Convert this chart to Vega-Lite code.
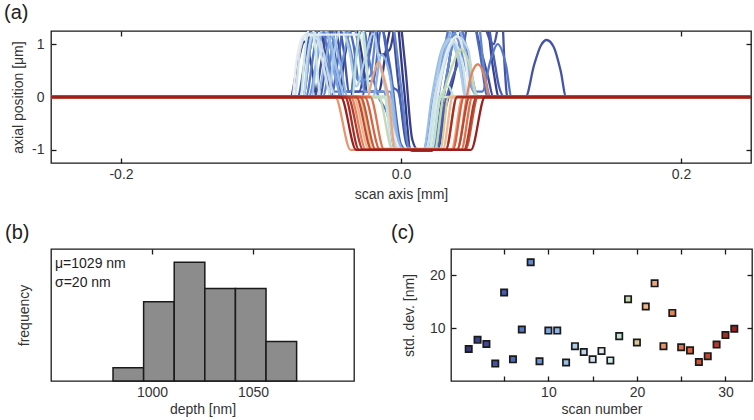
{
  "$schema": "https://vega.github.io/schema/vega-lite/v6.json",
  "padding": {"left": 3, "top": 2, "right": 2, "bottom": 0},
  "config": {
    "font": "Liberation Sans",
    "view": {"stroke": "#1a1a1a", "strokeWidth": 1.3},
    "axis": {"domain": false, "grid": false, "tickSize": -5, "tickColor": "#1a1a1a", "tickWidth": 1.3,
             "labelFont": "Liberation Sans", "labelFontSize": 14, "labelColor": "#333333",
             "titleFont": "Liberation Sans", "titleFontSize": 14, "titleFontWeight": "normal", "titleColor": "#333333",
             "labelPadding": 9},
    "title": {"fontSize": 20, "fontWeight": "normal", "anchor": "start", "frame": "group", "color": "#222222", "font": "Liberation Sans", "baseline": "alphabetic"}
  },
  "datasets": {
    "prof": [
      {"s":1,"x":-0.25,"y":0},{"s":1,"x":-0.079,"y":0},{"s":1,"x":-0.074,"y":0.6},{"s":1,"x":-0.069,"y":1.05},{"s":1,"x":-0.064,"y":0.6},{"s":1,"x":-0.06,"y":0},{"s":1,"x":-0.045,"y":0},{"s":1,"x":-0.04,"y":0.8},{"s":1,"x":-0.034,"y":1.5},{"s":1,"x":-0.028,"y":0.8},{"s":1,"x":-0.024,"y":0.1},{"s":1,"x":-0.016,"y":0.1},{"s":1,"x":-0.01,"y":1.0},{"s":1,"x":-0.004,"y":1.6},{"s":1,"x":0.002,"y":0.2},{"s":1,"x":0.007,"y":-1.0},{"s":1,"x":0.024,"y":-1.0},{"s":1,"x":0.03,"y":0},{"s":1,"x":0.25,"y":0},
      {"s":2,"x":-0.25,"y":0},{"s":2,"x":-0.07,"y":0},{"s":2,"x":-0.065,"y":0.9},{"s":2,"x":-0.06,"y":1.5},{"s":2,"x":-0.054,"y":0.8},{"s":2,"x":-0.05,"y":0},{"s":2,"x":-0.036,"y":0},{"s":2,"x":-0.032,"y":0.8},{"s":2,"x":-0.026,"y":1.6},{"s":2,"x":-0.02,"y":1.6},{"s":2,"x":-0.014,"y":0.8},{"s":2,"x":-0.008,"y":0.9},{"s":2,"x":-0.002,"y":1.6},{"s":2,"x":0.003,"y":0.6},{"s":2,"x":0.008,"y":-0.8},{"s":2,"x":0.012,"y":-1.0},{"s":2,"x":0.026,"y":-1.0},{"s":2,"x":0.032,"y":-0.2},{"s":2,"x":0.038,"y":0.4},{"s":2,"x":0.046,"y":1.6},{"s":2,"x":0.06,"y":1.6},{"s":2,"x":0.066,"y":0.5},{"s":2,"x":0.07,"y":0},{"s":2,"x":0.25,"y":0},
      {"s":3,"x":-0.25,"y":0},{"s":3,"x":-0.062,"y":0},{"s":3,"x":-0.056,"y":0.8},{"s":3,"x":-0.05,"y":1.6},{"s":3,"x":-0.044,"y":0.9},{"s":3,"x":-0.04,"y":0.1},{"s":3,"x":-0.03,"y":0.1},{"s":3,"x":-0.024,"y":0.9},{"s":3,"x":-0.018,"y":1.6},{"s":3,"x":-0.008,"y":1.6},{"s":3,"x":-0.002,"y":0.3},{"s":3,"x":0.004,"y":-0.9},{"s":3,"x":0.008,"y":-1.02},{"s":3,"x":0.022,"y":-1.02},{"s":3,"x":0.028,"y":-0.4},{"s":3,"x":0.034,"y":0.6},{"s":3,"x":0.042,"y":1.6},{"s":3,"x":0.05,"y":1.6},{"s":3,"x":0.056,"y":1.0},{"s":3,"x":0.062,"y":0.4},{"s":3,"x":0.066,"y":0},{"s":3,"x":0.25,"y":0},
      {"s":4,"x":-0.25,"y":0},{"s":4,"x":-0.058,"y":0},{"s":4,"x":-0.053,"y":0.8},{"s":4,"x":-0.047,"y":1.6},{"s":4,"x":-0.041,"y":0.9},{"s":4,"x":-0.037,"y":0.1},{"s":4,"x":-0.012,"y":0.1},{"s":4,"x":-0.008,"y":-0.6},{"s":4,"x":-0.002,"y":-1.0},{"s":4,"x":0.018,"y":-1.0},{"s":4,"x":0.024,"y":-0.3},{"s":4,"x":0.03,"y":0.6},{"s":4,"x":0.04,"y":1.6},{"s":4,"x":0.055,"y":1.6},{"s":4,"x":0.066,"y":1.0},{"s":4,"x":0.072,"y":1.6},{"s":4,"x":0.074,"y":0.6},{"s":4,"x":0.076,"y":0},{"s":4,"x":0.089,"y":0},{"s":4,"x":0.095,"y":0.6},{"s":4,"x":0.1,"y":0.98},{"s":4,"x":0.104,"y":1.08},{"s":4,"x":0.109,"y":0.95},{"s":4,"x":0.114,"y":0.5},{"s":4,"x":0.118,"y":0},{"s":4,"x":0.25,"y":0},
      {"s":5,"x":-0.25,"y":0},{"s":5,"x":-0.074,"y":0},{"s":5,"x":-0.068,"y":0.8},{"s":5,"x":-0.062,"y":1.6},{"s":5,"x":-0.052,"y":1.6},{"s":5,"x":-0.046,"y":0.6},{"s":5,"x":-0.042,"y":0},{"s":5,"x":-0.028,"y":0},{"s":5,"x":-0.022,"y":0.9},{"s":5,"x":-0.016,"y":1.6},{"s":5,"x":-0.01,"y":0.8},{"s":5,"x":-0.006,"y":0.2},{"s":5,"x":-0.002,"y":0.1},{"s":5,"x":0.004,"y":-0.8},{"s":5,"x":0.008,"y":-1.0},{"s":5,"x":0.026,"y":-1.0},{"s":5,"x":0.03,"y":-0.3},{"s":5,"x":0.036,"y":0.3},{"s":5,"x":0.044,"y":0.9},{"s":5,"x":0.05,"y":1.6},{"s":5,"x":0.06,"y":1.6},{"s":5,"x":0.066,"y":0.8},{"s":5,"x":0.07,"y":0.2},{"s":5,"x":0.074,"y":0},{"s":5,"x":0.25,"y":0},
      {"s":6,"x":-0.25,"y":0},{"s":6,"x":-0.05,"y":0},{"s":6,"x":-0.045,"y":0.7},{"s":6,"x":-0.04,"y":1.4},{"s":6,"x":-0.034,"y":1.0},{"s":6,"x":-0.03,"y":0.3},{"s":6,"x":-0.02,"y":0.3},{"s":6,"x":-0.014,"y":1.3},{"s":6,"x":-0.008,"y":0.6},{"s":6,"x":0.0,"y":-0.9},{"s":6,"x":0.004,"y":-1.0},{"s":6,"x":0.022,"y":-1.0},{"s":6,"x":0.028,"y":-0.3},{"s":6,"x":0.034,"y":0.6},{"s":6,"x":0.04,"y":1.6},{"s":6,"x":0.05,"y":1.6},{"s":6,"x":0.056,"y":0.9},{"s":6,"x":0.062,"y":0},{"s":6,"x":0.25,"y":0},
      {"s":7,"x":-0.25,"y":0},{"s":7,"x":-0.068,"y":0},{"s":7,"x":-0.062,"y":0.9},{"s":7,"x":-0.058,"y":1.4},{"s":7,"x":-0.052,"y":0.8},{"s":7,"x":-0.048,"y":0.1},{"s":7,"x":-0.036,"y":0.1},{"s":7,"x":-0.032,"y":0.9},{"s":7,"x":-0.027,"y":1.3},{"s":7,"x":-0.022,"y":0.6},{"s":7,"x":-0.016,"y":0.0},{"s":7,"x":-0.01,"y":-0.3},{"s":7,"x":-0.004,"y":-1.0},{"s":7,"x":0.016,"y":-1.0},{"s":7,"x":0.022,"y":-0.2},{"s":7,"x":0.03,"y":0.8},{"s":7,"x":0.038,"y":1.6},{"s":7,"x":0.048,"y":0.8},{"s":7,"x":0.054,"y":0.1},{"s":7,"x":0.058,"y":0.1},{"s":7,"x":0.064,"y":0.7},{"s":7,"x":0.069,"y":1.0},{"s":7,"x":0.075,"y":0.6},{"s":7,"x":0.079,"y":0},{"s":7,"x":0.25,"y":0},
      {"s":8,"x":-0.25,"y":0},{"s":8,"x":-0.056,"y":0},{"s":8,"x":-0.05,"y":0.8},{"s":8,"x":-0.045,"y":1.5},{"s":8,"x":-0.038,"y":1.1},{"s":8,"x":-0.03,"y":0.3},{"s":8,"x":-0.022,"y":0.4},{"s":8,"x":-0.016,"y":1.5},{"s":8,"x":-0.008,"y":1.6},{"s":8,"x":0.0,"y":0.2},{"s":8,"x":0.006,"y":-1.0},{"s":8,"x":0.024,"y":-1.0},{"s":8,"x":0.03,"y":0},{"s":8,"x":0.036,"y":0.9},{"s":8,"x":0.044,"y":1.6},{"s":8,"x":0.054,"y":1.6},{"s":8,"x":0.06,"y":0.4},{"s":8,"x":0.064,"y":0},{"s":8,"x":0.25,"y":0},
      {"s":9,"x":-0.25,"y":0},{"s":9,"x":-0.066,"y":0},{"s":9,"x":-0.06,"y":0.7},{"s":9,"x":-0.055,"y":1.3},{"s":9,"x":-0.05,"y":0.9},{"s":9,"x":-0.046,"y":0.3},{"s":9,"x":-0.04,"y":0.9},{"s":9,"x":-0.035,"y":1.4},{"s":9,"x":-0.03,"y":0.9},{"s":9,"x":-0.026,"y":0.1},{"s":9,"x":-0.008,"y":0.1},{"s":9,"x":-0.002,"y":-0.9},{"s":9,"x":0.002,"y":-1.0},{"s":9,"x":0.02,"y":-1.0},{"s":9,"x":0.026,"y":-0.1},{"s":9,"x":0.032,"y":0.8},{"s":9,"x":0.038,"y":1.2},{"s":9,"x":0.044,"y":0.8},{"s":9,"x":0.05,"y":0.2},{"s":9,"x":0.056,"y":0},{"s":9,"x":0.25,"y":0},
      {"s":10,"x":-0.25,"y":0},{"s":10,"x":-0.07,"y":0},{"s":10,"x":-0.065,"y":0.9},{"s":10,"x":-0.06,"y":1.5},{"s":10,"x":-0.052,"y":1.2},{"s":10,"x":-0.047,"y":0.4},{"s":10,"x":-0.042,"y":0},{"s":10,"x":-0.01,"y":0},{"s":10,"x":-0.004,"y":-0.8},{"s":10,"x":0.0,"y":-1.0},{"s":10,"x":0.018,"y":-1.0},{"s":10,"x":0.024,"y":-0.2},{"s":10,"x":0.03,"y":0.7},{"s":10,"x":0.036,"y":1.1},{"s":10,"x":0.042,"y":0.7},{"s":10,"x":0.048,"y":0},{"s":10,"x":0.25,"y":0},
      {"s":11,"x":-0.25,"y":0},{"s":11,"x":-0.06,"y":0},{"s":11,"x":-0.054,"y":0.7},{"s":11,"x":-0.049,"y":1.15},{"s":11,"x":-0.044,"y":0.7},{"s":11,"x":-0.038,"y":0},{"s":11,"x":-0.02,"y":0},{"s":11,"x":-0.014,"y":0.8},{"s":11,"x":-0.008,"y":0.4},{"s":11,"x":-0.002,"y":-0.8},{"s":11,"x":0.002,"y":-1.0},{"s":11,"x":0.02,"y":-1.0},{"s":11,"x":0.026,"y":0},{"s":11,"x":0.032,"y":0.9},{"s":11,"x":0.038,"y":1.4},{"s":11,"x":0.044,"y":1.1},{"s":11,"x":0.05,"y":0.3},{"s":11,"x":0.054,"y":0},{"s":11,"x":0.25,"y":0},
      {"s":12,"x":-0.25,"y":0},{"s":12,"x":-0.064,"y":0},{"s":12,"x":-0.06,"y":0.8},{"s":12,"x":-0.056,"y":1.3},{"s":12,"x":-0.05,"y":1.0},{"s":12,"x":-0.044,"y":0.3},{"s":12,"x":-0.04,"y":0},{"s":12,"x":-0.008,"y":0},{"s":12,"x":-0.002,"y":-1.0},{"s":12,"x":0.016,"y":-1.0},{"s":12,"x":0.022,"y":0},{"s":12,"x":0.028,"y":0.8},{"s":12,"x":0.034,"y":1.1},{"s":12,"x":0.04,"y":0.8},{"s":12,"x":0.046,"y":0.1},{"s":12,"x":0.05,"y":0},{"s":12,"x":0.25,"y":0},
      {"s":13,"x":-0.25,"y":0},{"s":13,"x":-0.052,"y":0},{"s":13,"x":-0.048,"y":0.8},{"s":13,"x":-0.043,"y":1.3},{"s":13,"x":-0.037,"y":0.9},{"s":13,"x":-0.032,"y":0.2},{"s":13,"x":-0.026,"y":0.7},{"s":13,"x":-0.02,"y":1.2},{"s":13,"x":-0.015,"y":0.6},{"s":13,"x":-0.01,"y":0},{"s":13,"x":-0.004,"y":-1.0},{"s":13,"x":0.018,"y":-1.0},{"s":13,"x":0.024,"y":0},{"s":13,"x":0.03,"y":0.9},{"s":13,"x":0.036,"y":1.1},{"s":13,"x":0.042,"y":0.6},{"s":13,"x":0.046,"y":0},{"s":13,"x":0.25,"y":0},
      {"s":14,"x":-0.25,"y":0},{"s":14,"x":-0.07,"y":0},{"s":14,"x":-0.066,"y":0.9},{"s":14,"x":-0.062,"y":1.2},{"s":14,"x":-0.056,"y":0.9},{"s":14,"x":-0.05,"y":0.2},{"s":14,"x":-0.046,"y":0},{"s":14,"x":-0.01,"y":0},{"s":14,"x":-0.004,"y":-0.9},{"s":14,"x":0.0,"y":-1.0},{"s":14,"x":0.02,"y":-1.0},{"s":14,"x":0.026,"y":0},{"s":14,"x":0.032,"y":0.7},{"s":14,"x":0.04,"y":1.15},{"s":14,"x":0.048,"y":0.9},{"s":14,"x":0.052,"y":0.2},{"s":14,"x":0.056,"y":0},{"s":14,"x":0.25,"y":0},
      {"s":15,"x":-0.25,"y":0},{"s":15,"x":-0.076,"y":0},{"s":15,"x":-0.072,"y":0.9},{"s":15,"x":-0.067,"y":1.2},{"s":15,"x":-0.06,"y":1.1},{"s":15,"x":-0.054,"y":0.4},{"s":15,"x":-0.05,"y":0},{"s":15,"x":-0.012,"y":0},{"s":15,"x":-0.006,"y":-1.0},{"s":15,"x":0.018,"y":-1.0},{"s":15,"x":0.024,"y":0},{"s":15,"x":0.03,"y":0.6},{"s":15,"x":0.038,"y":1.05},{"s":15,"x":0.044,"y":0.6},{"s":15,"x":0.048,"y":0},{"s":15,"x":0.25,"y":0},
      {"s":16,"x":-0.25,"y":0},{"s":16,"x":-0.078,"y":0},{"s":16,"x":-0.074,"y":0.8},{"s":16,"x":-0.07,"y":1.15},{"s":16,"x":-0.06,"y":1.18},{"s":16,"x":-0.03,"y":1.18},{"s":16,"x":-0.026,"y":0.9},{"s":16,"x":-0.022,"y":0},{"s":16,"x":-0.012,"y":0},{"s":16,"x":-0.006,"y":-0.6},{"s":16,"x":0.0,"y":-1.0},{"s":16,"x":0.02,"y":-1.0},{"s":16,"x":0.026,"y":0},{"s":16,"x":0.032,"y":0.8},{"s":16,"x":0.04,"y":1.15},{"s":16,"x":0.046,"y":0.7},{"s":16,"x":0.05,"y":0},{"s":16,"x":0.25,"y":0},
      {"s":17,"x":-0.25,"y":0},{"s":17,"x":-0.072,"y":0},{"s":17,"x":-0.068,"y":1.0},{"s":17,"x":-0.064,"y":1.4},{"s":17,"x":-0.06,"y":0.6},{"s":17,"x":-0.058,"y":0},{"s":17,"x":-0.01,"y":0},{"s":17,"x":-0.004,"y":-1.0},{"s":17,"x":0.02,"y":-1.0},{"s":17,"x":0.026,"y":0},{"s":17,"x":0.25,"y":0},
      {"s":18,"x":-0.25,"y":0},{"s":18,"x":-0.035,"y":0},{"s":18,"x":-0.031,"y":1.0},{"s":18,"x":-0.028,"y":1.4},{"s":18,"x":-0.025,"y":0.7},{"s":18,"x":-0.022,"y":0},{"s":18,"x":-0.012,"y":0},{"s":18,"x":-0.003,"y":-1.0},{"s":18,"x":0.022,"y":-1.0},{"s":18,"x":0.028,"y":0},{"s":18,"x":0.034,"y":0.2},{"s":18,"x":0.038,"y":0},{"s":18,"x":0.25,"y":0},
      {"s":19,"x":-0.25,"y":0},{"s":19,"x":-0.016,"y":0},{"s":19,"x":-0.006,"y":-1.0},{"s":19,"x":0.024,"y":-1.0},{"s":19,"x":0.03,"y":0},{"s":19,"x":0.036,"y":0.55},{"s":19,"x":0.043,"y":0.9},{"s":19,"x":0.05,"y":0.5},{"s":19,"x":0.054,"y":0},{"s":19,"x":0.25,"y":0},
      {"s":20,"x":-0.25,"y":0},{"s":20,"x":-0.03,"y":0},{"s":20,"x":-0.02,"y":-1.0},{"s":20,"x":0.028,"y":-1.0},{"s":20,"x":0.034,"y":0},{"s":20,"x":0.25,"y":0},
      {"s":21,"x":-0.25,"y":0},{"s":21,"x":-0.034,"y":0},{"s":21,"x":-0.023,"y":-0.98},{"s":21,"x":0.03,"y":-0.98},{"s":21,"x":0.037,"y":0},{"s":21,"x":0.25,"y":0},
      {"s":22,"x":-0.25,"y":0},{"s":22,"x":-0.024,"y":0},{"s":22,"x":-0.02,"y":0.4},{"s":22,"x":-0.016,"y":0.66},{"s":22,"x":-0.012,"y":0.35},{"s":22,"x":-0.009,"y":0},{"s":22,"x":-0.004,"y":-1.0},{"s":22,"x":0.036,"y":-1.0},{"s":22,"x":0.044,"y":0},{"s":22,"x":0.25,"y":0},
      {"s":23,"x":-0.25,"y":0},{"s":23,"x":-0.047,"y":0},{"s":23,"x":-0.036,"y":-1.0},{"s":23,"x":0.032,"y":-1.0},{"s":23,"x":0.04,"y":0},{"s":23,"x":0.25,"y":0},
      {"s":24,"x":-0.25,"y":0},{"s":24,"x":-0.036,"y":0},{"s":24,"x":-0.025,"y":-1.0},{"s":24,"x":0.04,"y":-1.0},{"s":24,"x":0.047,"y":0},{"s":24,"x":0.05,"y":0.4},{"s":24,"x":0.055,"y":0.62},{"s":24,"x":0.06,"y":0.35},{"s":24,"x":0.063,"y":0},{"s":24,"x":0.25,"y":0},
      {"s":25,"x":-0.25,"y":0},{"s":25,"x":-0.022,"y":0},{"s":25,"x":-0.012,"y":-1.0},{"s":25,"x":0.043,"y":-1.0},{"s":25,"x":0.051,"y":0},{"s":25,"x":0.25,"y":0},
      {"s":26,"x":-0.25,"y":0},{"s":26,"x":-0.026,"y":0},{"s":26,"x":-0.015,"y":-1.0},{"s":26,"x":0.037,"y":-1.0},{"s":26,"x":0.045,"y":0},{"s":26,"x":0.25,"y":0},
      {"s":27,"x":-0.25,"y":0},{"s":27,"x":-0.029,"y":0},{"s":27,"x":-0.018,"y":-1.0},{"s":27,"x":0.046,"y":-1.0},{"s":27,"x":0.055,"y":0},{"s":27,"x":0.25,"y":0},
      {"s":28,"x":-0.25,"y":0},{"s":28,"x":-0.032,"y":0},{"s":28,"x":-0.021,"y":-1.0},{"s":28,"x":0.04,"y":-1.0},{"s":28,"x":0.049,"y":0},{"s":28,"x":0.25,"y":0},
      {"s":29,"x":-0.25,"y":0},{"s":29,"x":-0.038,"y":0},{"s":29,"x":-0.027,"y":-1.0},{"s":29,"x":0.045,"y":-1.0},{"s":29,"x":0.054,"y":0},{"s":29,"x":0.25,"y":0},
      {"s":30,"x":-0.25,"y":0},{"s":30,"x":-0.04,"y":0},{"s":30,"x":-0.03,"y":-1.0},{"s":30,"x":0.032,"y":-1.0},{"s":30,"x":0.04,"y":0},{"s":30,"x":0.25,"y":0},
      {"s":31,"x":-0.25,"y":0},{"s":31,"x":-0.043,"y":0},{"s":31,"x":-0.032,"y":-1.0},{"s":31,"x":0.05,"y":-1.0},{"s":31,"x":0.06,"y":0},{"s":31,"x":0.25,"y":0}
    ],
    "hist": [
      {"a":980.7,"b":995.85,"n":1},{"a":995.85,"b":1011,"n":6},{"a":1011,"b":1026.15,"n":9},{"a":1026.15,"b":1041.3,"n":7},{"a":1041.3,"b":1056.45,"n":7},{"a":1056.45,"b":1071.6,"n":3}
    ],
    "sd": [
      {"s":1,"v":6.05},{"s":2,"v":7.8},{"s":3,"v":7.0},{"s":4,"v":3.3},{"s":5,"v":16.75},{"s":6,"v":4.1},{"s":7,"v":9.75},{"s":8,"v":22.5},{"s":9,"v":3.75},{"s":10,"v":9.55},
      {"s":11,"v":9.55},{"s":12,"v":3.5},{"s":13,"v":6.6},{"s":14,"v":5.5},{"s":15,"v":4.1},{"s":16,"v":5.7},{"s":17,"v":3.9},{"s":18,"v":8.5},{"s":19,"v":15.5},{"s":20,"v":7.3},
      {"s":21,"v":14.1},{"s":22,"v":18.5},{"s":23,"v":6.6},{"s":24,"v":12.9},{"s":25,"v":6.4},{"s":26,"v":5.8},{"s":27,"v":3.6},{"s":28,"v":4.7},{"s":29,"v":6.9},{"s":30,"v":8.7},{"s":31,"v":9.9}
    ]
  },
  "vconcat": [
    {
      "width": 700, "height": 132,
      "title": {"text": "(a)", "dx": -47, "offset": 7},
      "resolve": {"axis": {"x": "independent", "y": "independent"}},
      "layer": [
        {
          "data": {"name": "prof"},
          "mark": {"type": "line", "clip": true, "strokeWidth": 2.3, "interpolate": "monotone"},
          "encoding": {
            "x": {"field": "x", "type": "quantitative", "scale": {"domain": [-0.25, 0.25], "nice": false, "zero": false},
                  "axis": {"values": [-0.2, 0, 0.2], "title": "scan axis [mm]", "labelExpr": "replace(datum.label, '−', '-')", "titlePadding": 6}},
            "y": {"field": "y", "type": "quantitative", "scale": {"domain": [-1.25, 1.25], "nice": false},
                  "axis": {"values": [-1, 0, 1], "title": "axial position [μm]", "labelPadding": 12, "labelExpr": "replace(datum.label, '−', '-')", "titlePadding": 6}},
            "color": {"field": "s", "type": "quantitative", "legend": null,
                      "scale": {"domain": [1, 6, 11, 16, 21, 26, 31], "range": ["#35387f", "#4b68c1", "#8db4e4", "#e6ecef", "#f3b38f", "#d8613f", "#9b1f1f"]}},
            "detail": {"field": "s", "type": "nominal"}
          }
        },
        {
          "data": {"values": [{"x": 0, "y": 0}]},
          "mark": {"type": "point", "opacity": 0},
          "encoding": {
            "x": {"field": "x", "type": "quantitative", "axis": {"orient": "top", "values": [-0.2, 0, 0.2], "labels": false, "title": null}},
            "y": {"field": "y", "type": "quantitative", "axis": {"orient": "right", "values": [-1, 0, 1], "labels": false, "title": null}}
          }
        }
      ]
    },
    {
      "spacing": 35,
      "hconcat": [
        {
          "width": 303, "height": 132,
          "title": {"text": "(b)", "dx": -46, "offset": 5},
          "resolve": {"axis": {"x": "independent", "y": "independent"}},
          "layer": [
            {
              "data": {"name": "hist"},
              "mark": {"type": "bar", "fill": "#8c8c8c", "stroke": "#1a1a1a", "strokeWidth": 1.5},
              "encoding": {
                "x": {"field": "a", "type": "quantitative", "scale": {"domain": [950, 1100], "nice": false, "zero": false},
                      "axis": {"values": [1000, 1050], "format": "d", "title": "depth [nm]", "titlePadding": 3}},
                "x2": {"field": "b"},
                "y": {"field": "n", "type": "quantitative", "scale": {"domain": [0, 10], "nice": false},
                      "axis": {"labels": false, "ticks": false, "title": "frequency", "titlePadding": 20}},
                "y2": {"datum": 0}
              }
            },
            {
              "data": {"values": [{"x": 952, "y": 8.9, "t": "μ=1029 nm"}, {"x": 952, "y": 7.45, "t": "σ=20 nm"}]},
              "mark": {"type": "text", "align": "left", "baseline": "middle", "fontSize": 14, "color": "#222222"},
              "encoding": {
                "x": {"field": "x", "type": "quantitative", "axis": null},
                "y": {"field": "y", "type": "quantitative", "axis": null},
                "text": {"field": "t"}
              }
            },
            {
              "data": {"values": [{"x": 1000}]},
              "mark": {"type": "point", "opacity": 0},
              "encoding": {
                "x": {"field": "x", "type": "quantitative", "axis": {"orient": "top", "values": [1000, 1050], "labels": false, "title": null}}
              }
            }
          ]
        },
        {
          "width": 301, "height": 132,
          "title": {"text": "(c)", "dx": -60, "offset": 5},
          "resolve": {"axis": {"x": "independent", "y": "independent"}},
          "layer": [
            {
              "data": {"name": "sd"},
              "mark": {"type": "point", "shape": "square", "filled": true, "size": 40, "stroke": "#1a1a1a", "strokeWidth": 1.7, "opacity": 1},
              "encoding": {
                "x": {"field": "s", "type": "quantitative", "scale": {"domain": [-1, 33], "nice": false, "zero": false},
                      "axis": {"values": [5, 10, 15, 20, 25, 30], "labelExpr": "datum.value % 10 === 0 ? datum.label : ''", "title": "scan number", "titlePadding": 3}},
                "y": {"field": "v", "type": "quantitative", "scale": {"domain": [0, 25], "nice": false},
                      "axis": {"values": [10, 20], "title": "std. dev. [nm]", "labelPadding": 11, "titlePadding": 13}},
                "fill": {"field": "s", "type": "quantitative", "legend": null,
                         "scale": {"domain": [1, 6, 11, 16, 21, 26, 31], "range": ["#35387f", "#4b68c1", "#8db4e4", "#e6ecef", "#f3b38f", "#d8613f", "#9b1f1f"]}}
              }
            },
            {
              "data": {"values": [{"s": 10, "v": 10}]},
              "mark": {"type": "point", "opacity": 0},
              "encoding": {
                "x": {"field": "s", "type": "quantitative", "axis": {"orient": "top", "values": [5, 10, 15, 20, 25, 30], "labels": false, "title": null}},
                "y": {"field": "v", "type": "quantitative", "axis": {"orient": "right", "values": [10, 20], "labels": false, "title": null}}
              }
            }
          ]
        }
      ]
    }
  ],
  "spacing": 20
}
